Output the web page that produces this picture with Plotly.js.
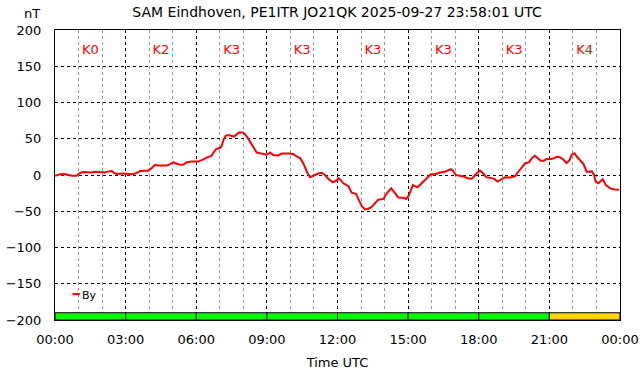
<!DOCTYPE html>
<html>
<head>
<meta charset="utf-8">
<script src="https://cdn.plot.ly/plotly-3.0.1.min.js"></script>
<style>html,body{margin:0;padding:0;background:#fff;}#chart{width:642px;height:376px;}</style>
</head>
<body>
<div id="chart"></div>
<script>
const day = '2025-09-27';
const times = ['00:00','00:13','00:25','00:34','00:43','00:55','01:04','01:12','01:21','01:34','01:42','01:59','02:07','02:16','02:25','02:30','02:37','02:50','03:03','03:11','03:20','03:28','03:37','03:49','03:58','04:05','04:15','04:23','04:36','04:45','04:53','05:02','05:10','05:19','05:27','05:36','05:48','06:05','06:14','06:22','06:31','06:38','06:44','06:50','07:01','07:05','07:09','07:15','07:22','07:30','07:36','07:43','07:50','08:00','08:09','08:17','08:26','08:34','08:43','08:51','09:00','09:08','09:16','09:29','09:38','09:55','10:07','10:16','10:25','10:33','10:42','10:50','10:58','11:11','11:20','11:28','11:37','11:48','11:58','12:02','12:07','12:15','12:28','12:36','12:47','12:53','13:02','13:10','13:19','13:27','13:36','13:44','13:57','14:06','14:17','14:27','14:35','14:48','14:55','15:02','15:12','15:24','15:35','15:48','15:58','16:09','16:21','16:34','16:43','16:49','16:54','17:02','17:12','17:21','17:31','17:42','17:48','17:55','18:03','18:10','18:19','18:29','18:39','18:48','18:57','19:07','19:20','19:32','19:41','19:50','19:58','20:08','20:15','20:23','20:30','20:38','20:46','20:53','21:06','21:19','21:27','21:36','21:44','21:51','21:57','22:04','22:10','22:18','22:27','22:35','22:48','22:54','22:58','23:05','23:16','23:24','23:35','23:47','23:58'];
const byValues = [-1,1,1.5,0,-1,-1,2.8,4,3.5,3.5,4.5,4.5,3.5,5,5.5,3,1.5,2,2,1.5,1,3,5.5,6,6,9,14,13,12.5,13,15,17.5,15.5,14,14.5,17.5,18.5,18.5,20.5,23,25,26,31,35.5,37.5,40,48,54,55,53.5,53,56,59,58.5,53,46,37.5,31,30,29.5,28,31,27.5,27,29.5,29.5,29,25.5,23,16,4.5,-3,-1,2,3,0,-5.5,-10,-7.5,-4.5,-6.5,-11.5,-15.5,-24.5,-26,-32,-43,-47.5,-46.5,-44,-39,-34,-33,-25,-18.5,-25,-31,-31.5,-33,-28,-14,-17,-11.5,-4.5,1,1,3.5,4.5,7,8,6,0,-1,-2,-4.5,-5,-2,2.5,6,3,-3,-3.5,-5,-9,-6,-3,-3.5,-2,4.5,11,16,17.5,23,26.5,23.5,19.5,19.5,22,22,25,24.5,21,16.5,20,28,30,25.5,21,15,4.5,5,0,-9.5,-11.5,-6,-14,-18.5,-20,-20.5];
const kTimes = ['01:30','04:30','07:30','10:30','13:30','16:30','19:30','22:30'];
const kValues = [0,2,3,3,3,3,3,4];
const kLabels = kValues.map(k => 'K' + k);
const yTicks = [200,150,100,50,0,-50,-100,-150,-200];
const xTickLabels = ['00:00','03:00','06:00','09:00','12:00','15:00','18:00','21:00','00:00'];

const FONT = 'DejaVu Sans, sans-serif';
const kBarBase = -200, kBarHeight = 10, kLabelY = 172;
const kColor = k => k >= 4 ? '#FFD700' : '#00FF00';
const xTickVals = xTickLabels.map((t, i) => i === xTickLabels.length - 1 ? '2025-09-28 00:00' : day + ' ' + t);

const traces = [
  {
    type: 'bar',
    x: kTimes.map(t => day + ' ' + t),
    y: kValues.map(() => kBarHeight),
    base: kValues.map(() => kBarBase),
    width: kValues.map(() => 3 * 3600000),
    marker: {color: kValues.map(kColor), line: {color: '#000', width: 1}},
    showlegend: false, hoverinfo: 'skip'
  },
  {
    type: 'scatter', mode: 'text',
    x: kTimes.map(t => day + ' ' + t),
    y: kValues.map(() => kLabelY),
    text: kLabels,
    textfont: {family: FONT, size: 13, color: '#ff0000'},
    showlegend: false, hoverinfo: 'skip'
  },
  {
    type: 'scatter', mode: 'lines', name: 'By',
    x: times.map(t => day + ' ' + t),
    y: byValues,
    line: {color: '#ff0000', width: 2},
    showlegend: false
  }
];

const layout = {
  width: 642, height: 376,
  margin: {l: 55, r: 22, t: 30, b: 56},
  paper_bgcolor: '#fff', plot_bgcolor: '#fff',
  font: {family: FONT, size: 13, color: '#000'},
  title: {text: 'SAM Eindhoven, PE1ITR JO21QK 2025-09-27 23:58:01 UTC', font: {family: FONT, size: 14, color: '#000'}, x: 0.525, xanchor: 'center', y: 0.968, yanchor: 'middle'},
  showlegend: false,
  bargap: 0,
  xaxis: {
    type: 'date',
    range: [day + ' 00:00', '2025-09-28 00:00'],
    tickvals: xTickVals, ticktext: xTickLabels,
    showgrid: true, gridcolor: '#000', griddash: 'dot', gridwidth: 1,
    minor: {dtick: 3600000, showgrid: true, gridcolor: '#999', griddash: 'dot', gridwidth: 1},
    showline: true, linecolor: '#000', linewidth: 1, mirror: true,
    ticks: 'outside', ticklen: 7, tickcolor: 'rgba(0,0,0,0)',
    tickfont: {family: FONT, size: 13, color: '#000'},
    zeroline: false,
    title: {text: 'Time UTC', font: {family: FONT, size: 13, color: '#000'}, standoff: 12}
  },
  yaxis: {
    range: [-200, 200],
    tickvals: yTicks,
    showgrid: true, gridcolor: '#000', griddash: 'dot', gridwidth: 1,
    showline: true, linecolor: '#000', linewidth: 1, mirror: true,
    ticks: 'outside', ticklen: 10, tickcolor: 'rgba(0,0,0,0)',
    tickfont: {family: FONT, size: 13, color: '#000'},
    zeroline: false
  },
  annotations: [
    {text: 'nT', xref: 'paper', yref: 'paper', x: -0.04, y: 1.0, xanchor: 'center', yanchor: 'bottom', yshift: 7, showarrow: false, font: {family: FONT, size: 13, color: '#000'}},
    {text: 'By', xref: 'paper', yref: 'paper', x: 0.044, y: 0.086, xanchor: 'left', yanchor: 'middle', showarrow: false, font: {family: FONT, size: 11, color: '#000'}}
  ],
  shapes: [
    {type: 'line', xref: 'paper', yref: 'paper', x0: 0.031, x1: 0.044, y0: 0.0895, y1: 0.0895, line: {color: '#ff0000', width: 2}}
  ]
};

Plotly.newPlot('chart', traces, layout, {displayModeBar: false, staticPlot: true});
</script>
</body>
</html>
